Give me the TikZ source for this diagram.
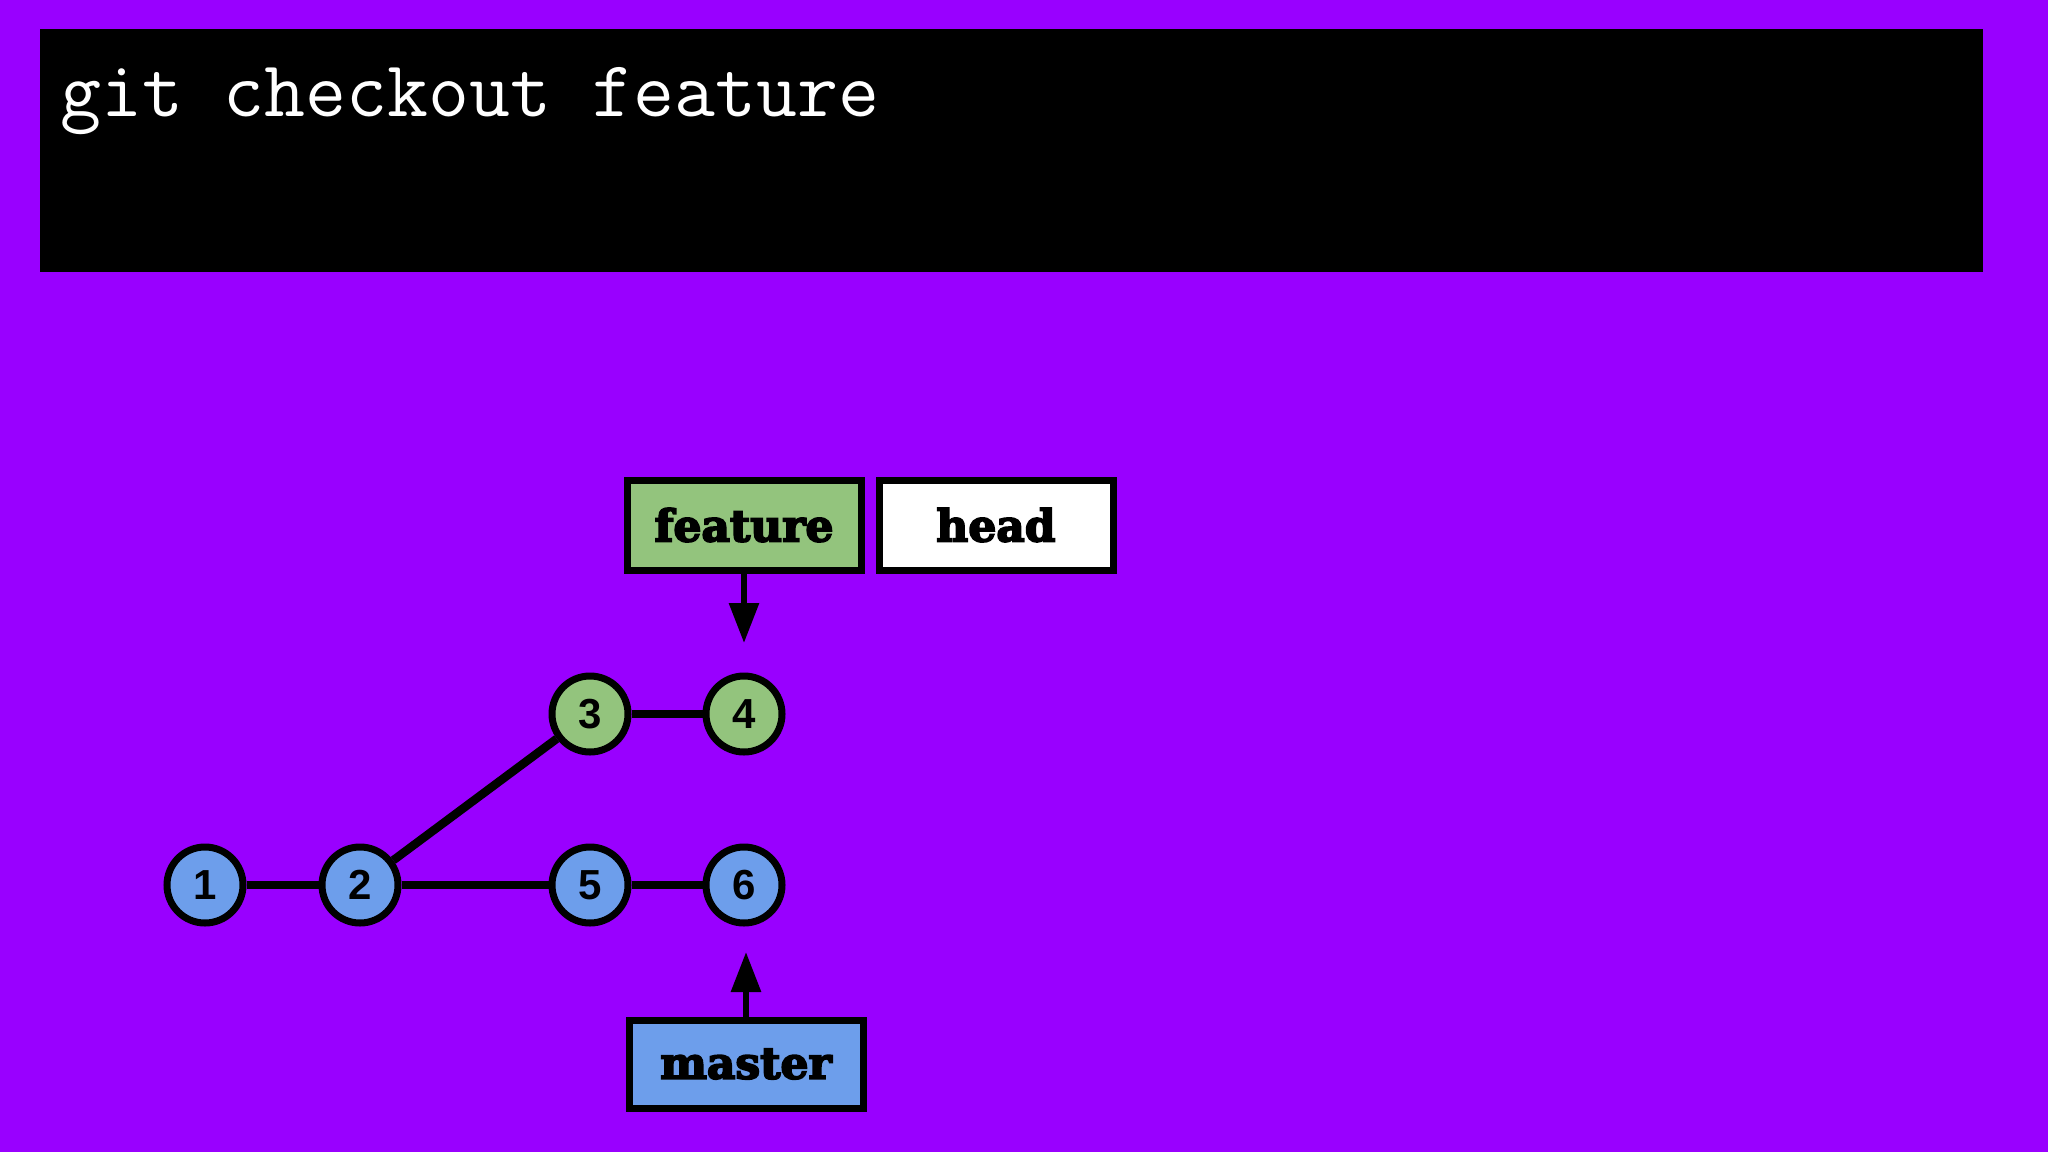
\documentclass[tikz,border=0pt]{standalone}
\usepackage{fontspec}
\usetikzlibrary{arrows.meta}
\newfontfamily\digitfont{Liberation Sans}
\newfontfamily\labelfont{DejaVu Serif}[UprightFont={* Bold},UprightFeatures={FakeBold=4}]
\definecolor{bgpurple}{HTML}{9900FF}
\definecolor{cgreen}{HTML}{93C47D}
\definecolor{cblue}{HTML}{6D9EEB}
\begin{document}
\begin{tikzpicture}[x=1pt,y=-1pt,
  commit/.style={circle,draw=black,line width=7pt,minimum size=76pt,inner sep=0pt,
    font=\digitfont\bfseries\fontsize{42}{42}\selectfont},
  gc/.style={commit,fill=cgreen},
  bc/.style={commit,fill=cblue},
  branch/.style={rectangle,draw=black,line width=7pt,inner sep=0pt,
    font=\labelfont\fontsize{44}{44}\selectfont},
  link/.style={line width=8.5pt,draw=black},
  ptr/.style={line width=6pt,draw=black,-{Triangle[width=29pt,length=40pt]}}]
\fill[bgpurple] (0,0) rectangle (2048,1152);
\useasboundingbox (0,0) rectangle (2048,1152);
\node[fill=black,draw=none,minimum width=1943pt,minimum height=243pt,inner sep=0pt,anchor=north west] (term) at (40,29) {};
\node[anchor=base west,inner sep=0pt,text=white,font=\ttfamily\fontsize{79.5}{80}\selectfont] (cmd) at (60,116) {git checkout feature};
% commits
\node[bc] (c1) at (205,885) {1};
\node[bc] (c2) at (360,885) {2};
\node[gc] (c3) at (590,714) {3};
\node[gc] (c4) at (744,714) {4};
\node[bc] (c5) at (590,885) {5};
\node[bc] (c6) at (744,885) {6};
\draw[link] (c1) -- (c2);
\draw[link] (c2) -- (c5);
\draw[link] (c5) -- (c6);
\draw[link] (c2) -- (c3);
\draw[link] (c3) -- (c4);
% branches
\node[branch,fill=cgreen,minimum width=234pt,minimum height=90pt] (feature) at (744,525) {feature};
\node[branch,fill=white,minimum width=234pt,minimum height=90pt] (head) at (996,525) {head};
\node[branch,fill=cblue,minimum width=234pt,minimum height=88pt] (master) at (746,1064) {master};
\coordinate (ftip) at (744,643);
\coordinate (mtip) at (746,952);
\draw[ptr] (feature.south) -- (ftip);
\draw[ptr] (master.north) -- (mtip);
\end{tikzpicture}
\end{document}
